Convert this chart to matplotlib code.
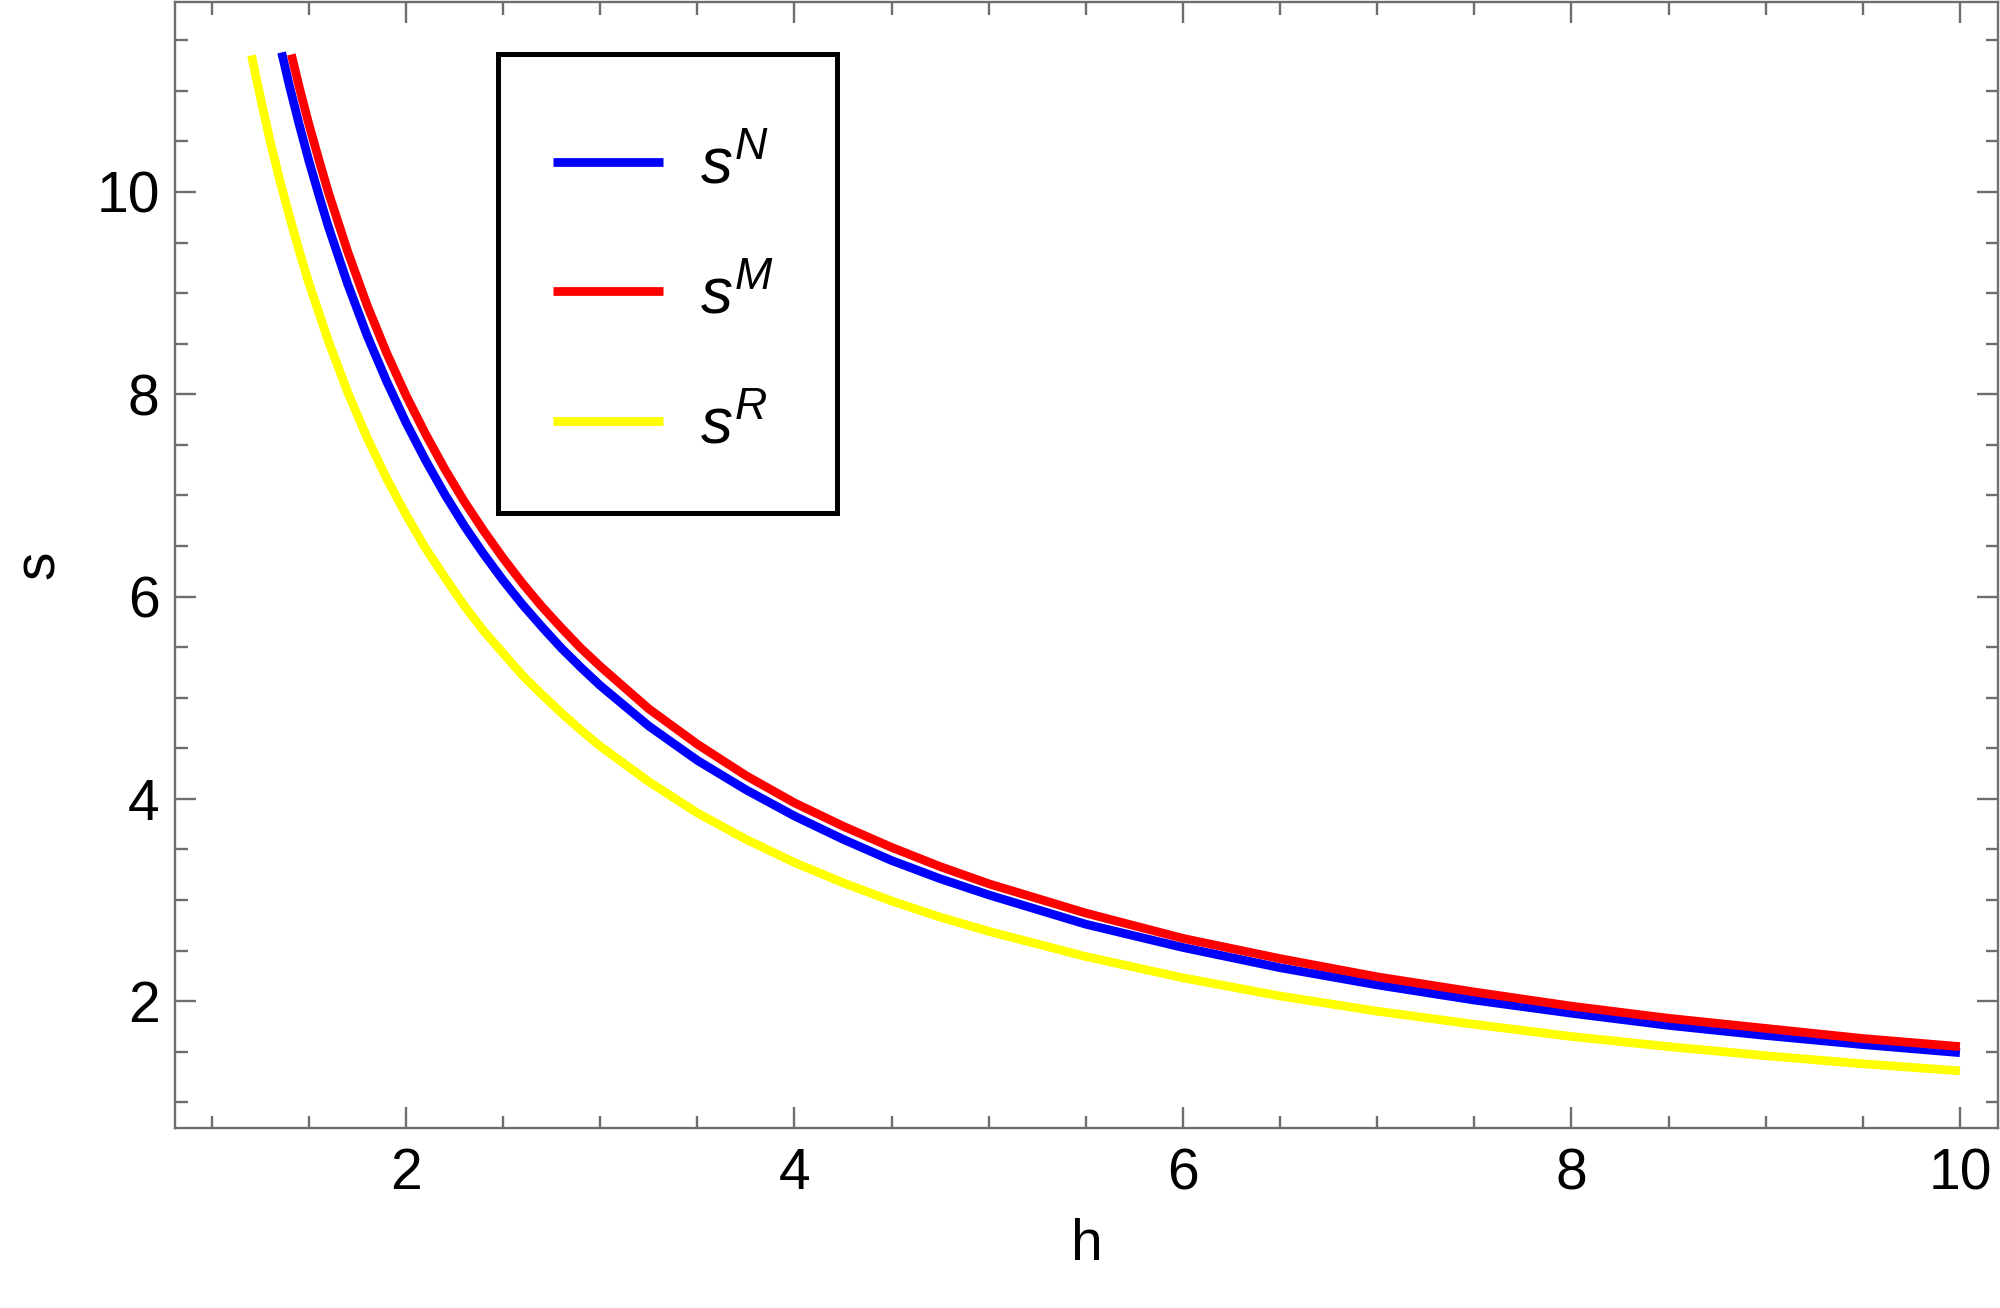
import matplotlib
matplotlib.use("Agg")
import matplotlib.pyplot as plt
from matplotlib.patches import Rectangle
from matplotlib.ticker import MultipleLocator

# values
h_n = [1.36, 1.4, 1.45, 1.5, 1.55, 1.6, 1.7, 1.8, 1.9, 2.0, 2.1, 2.2, 2.3, 2.4, 2.5, 2.6, 2.7,
       2.8, 2.9, 3.0, 3.25, 3.5, 3.75, 4.0, 4.25, 4.5, 4.75, 5.0, 5.5, 6.0, 6.5, 7.0, 7.5,
       8.0, 8.5, 9.0, 9.5, 10.0]
s_n = [11.38, 11.05, 10.67, 10.31, 9.98, 9.66, 9.09, 8.58, 8.13, 7.72, 7.35, 7.01, 6.70, 6.42,
       6.16, 5.92, 5.70, 5.49, 5.30, 5.12, 4.72, 4.38, 4.09, 3.83, 3.60, 3.39, 3.21, 3.05, 2.76,
       2.53, 2.33, 2.16, 2.01, 1.88, 1.76, 1.66, 1.57, 1.49]

h_m = [1.41, 1.45, 1.5, 1.55, 1.6, 1.7, 1.8, 1.9, 2.0, 2.1, 2.2, 2.3, 2.4, 2.5, 2.6, 2.7,
       2.8, 2.9, 3.0, 3.25, 3.5, 3.75, 4.0, 4.25, 4.5, 4.75, 5.0, 5.5, 6.0, 6.5, 7.0, 7.5,
       8.0, 8.5, 9.0, 9.5, 10.0]
s_m = [11.36, 11.04, 10.67, 10.33, 10.00, 9.41, 8.88, 8.41, 7.99, 7.61, 7.26, 6.94, 6.65, 6.38,
       6.13, 5.90, 5.69, 5.49, 5.31, 4.89, 4.54, 4.23, 3.96, 3.73, 3.52, 3.33, 3.16, 2.87, 2.62,
       2.42, 2.24, 2.09, 1.95, 1.83, 1.73, 1.63, 1.55]

h_r = [1.205, 1.25, 1.3, 1.35, 1.4, 1.45, 1.5, 1.6, 1.7, 1.8, 1.9, 2.0, 2.1, 2.2, 2.3, 2.4,
       2.5, 2.6, 2.7, 2.8, 2.9, 3.0, 3.25, 3.5, 3.75, 4.0, 4.25, 4.5, 4.75, 5.0, 5.5, 6.0,
       6.5, 7.0, 7.5, 8.0, 8.5, 9.0, 9.5, 10.0]
s_r = [11.35, 10.94, 10.51, 10.12, 9.76, 9.42, 9.10, 8.53, 8.02, 7.57, 7.17, 6.81, 6.48, 6.19,
       5.91, 5.66, 5.44, 5.22, 5.03, 4.85, 4.68, 4.52, 4.17, 3.86, 3.60, 3.37, 3.17, 2.99, 2.83,
       2.69, 2.44, 2.23, 2.05, 1.90, 1.77, 1.65, 1.55, 1.46, 1.38, 1.31]

labels = [r"$s^N$", r"$s^M$", r"$s^R$"]
colors = ["#0000ff", "#ff0000", "#ffff00"]

plt.rcParams["font.family"] = ["Liberation Sans", "DejaVu Sans"]
plt.rcParams["mathtext.fontset"] = "custom"
plt.rcParams["mathtext.it"] = "Liberation Sans:italic"
plt.rcParams["mathtext.rm"] = "Liberation Sans"

fig = plt.figure(figsize=(20, 13.08), dpi=100)
ax = fig.add_axes([0.0875, 0.1376, 0.9115, 0.861])

for hx, sy, lab, col in zip([h_n, h_m, h_r], [s_n, s_m, s_r], labels, colors):
    ax.plot(hx, sy, color=col, lw=6.3, label=lab, solid_capstyle="butt",
            solid_joinstyle="round")

ax.set_xlim(0.811, 10.196)
ax.set_ylim(0.745, 11.88)
ax.xaxis.set_major_locator(MultipleLocator(2))
ax.xaxis.set_minor_locator(MultipleLocator(0.5))
ax.yaxis.set_major_locator(MultipleLocator(2))
ax.yaxis.set_minor_locator(MultipleLocator(0.5))

spine_col = "#6e6e6e"
for sp in ax.spines.values():
    sp.set_color(spine_col)
    sp.set_linewidth(1.7)
ax.tick_params(which="both", direction="in", top=True, right=True, color=spine_col, width=1.7)
ax.tick_params(which="major", length=15, labelsize=41)
ax.tick_params(axis="x", which="major", pad=14)
ax.tick_params(axis="y", which="major", pad=11)
ax.tick_params(which="minor", length=9)

ax.set_xlabel("h", fontsize=41, labelpad=12)
ax.set_ylabel("s", fontsize=41, labelpad=22)

# legend box drawn on its own, entries placed inside it
ax.add_patch(Rectangle((0.1772, 0.5462), 0.1859, 0.4076, transform=ax.transAxes,
                       facecolor="white", edgecolor="black", lw=3.6, zorder=4))
ax.legend(loc="upper left", bbox_to_anchor=(0.2074, 0.880), borderaxespad=0,
          fontsize=46, frameon=False, handlelength=1.72, handletextpad=0.58,
          labelspacing=1.09, borderpad=0)

fig.savefig("out.png", dpi=100)
